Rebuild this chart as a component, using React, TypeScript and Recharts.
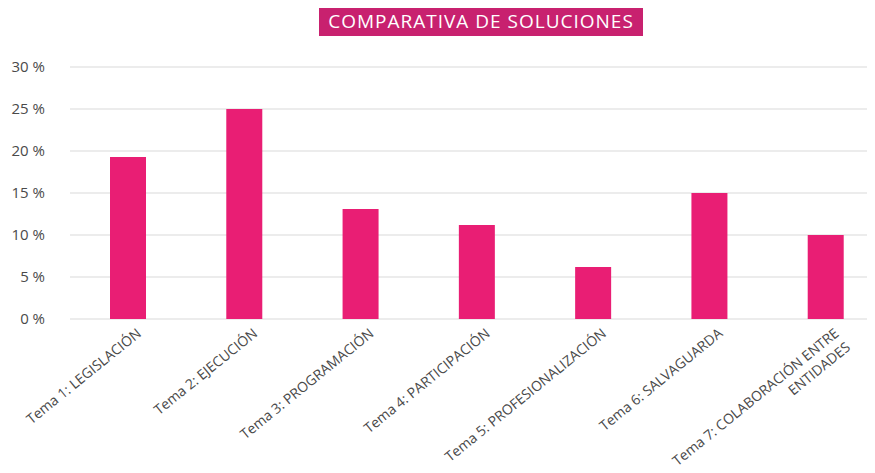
import { BarChart, Bar, XAxis, YAxis, CartesianGrid } from "recharts";

const categories: string[] = [
	"Tema 1: LEGISLACIÓN",
	"Tema 2: EJECUCIÓN",
	"Tema 3: PROGRAMACIÓN",
	"Tema 4: PARTICIPACIÓN",
	"Tema 5: PROFESIONALIZACIÓN",
	"Tema 6: SALVAGUARDA",
	"Tema 7: COLABORACIÓN ENTRE ENTIDADES",
];
const values: number[] = [19.3, 25.0, 13.1, 11.2, 6.2, 15.0, 10.0];
const yTicks: number[] = [0, 5, 10, 15, 20, 25, 30];
const title = "COMPARATIVA DE SOLUCIONES";

const data = categories.map((name, i) => ({ name, value: values[i] }));

const font = "'Open Sans', sans-serif";

// wrap long labels into lines of max ~28 chars
function wrap(text: string, max = 28): string[] {
	const lines: string[] = [];
	let cur = "";
	for (const w of text.split(" ")) {
		if (cur && (cur + " " + w).length > max) {
			lines.push(cur);
			cur = w;
		} else {
			cur = cur ? cur + " " + w : w;
		}
	}
	if (cur) lines.push(cur);
	return lines;
}

function XTick(props: any) {
	const { x, y, payload } = props;
	const lines = wrap(payload.value);
	return (
		<g transform={`translate(${x + 14},${y + 8})`}>
			<text
				transform="rotate(-39)"
				textAnchor="end"
				fill="#4a4a4a"
				fontSize={14}
				fontFamily={font}
			>
				{lines.map((l, i) => (
					<tspan key={i} x={0} dy={i === 0 ? 0 : 18}>
						{l}
					</tspan>
				))}
			</text>
		</g>
	);
}

export default function App() {
	return (
		<div
			style={{
				position: "relative",
				margin: -8,
				width: 875,
				height: 473,
				overflow: "hidden",
				background: "#fff",
			}}
		>
			<div
				style={{
					position: "absolute",
					left: 319,
					top: 7,
					width: 324,
					height: 29,
					background: "#c8216f",
					color: "#fff",
					fontFamily: font,
					fontSize: 19,
					letterSpacing: 1,
					lineHeight: "29px",
					textAlign: "center",
				}}
			>
				{title}
			</div>
			<BarChart
				width={884}
				height={473}
				data={data}
				margin={{ top: 67, right: 0, bottom: 0, left: 0 }}
			>
				<CartesianGrid vertical={false} stroke="#d9d9d9" />
				<XAxis
					dataKey="name"
					axisLine={false}
					tickLine={false}
					interval={0}
					height={154}
					tick={<XTick />}
				/>
				<YAxis
					domain={[0, 30]}
					ticks={yTicks}
					width={70}
					axisLine={false}
					tickLine={false}
					tickSize={0}
					tickMargin={25}
					tickFormatter={(v: number) => `${v} %`}
					tick={{ fill: "#4a4a4a", fontSize: 15, fontFamily: font }}
				/>
				<Bar dataKey="value" fill="#e91e74" barSize={36} isAnimationActive={false} />
			</BarChart>
		</div>
	);
}
